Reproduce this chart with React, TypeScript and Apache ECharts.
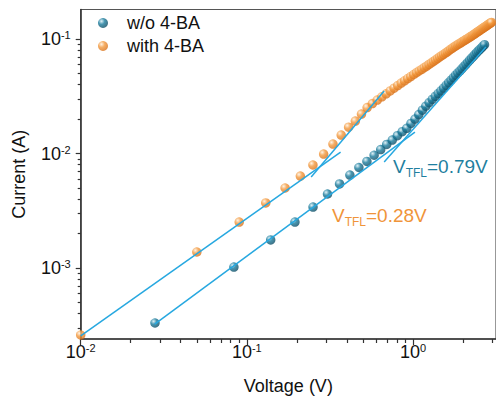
import React, { useEffect, useRef } from 'react';
import * as echarts from 'echarts';

const seriesNames = ['w/o 4-BA', 'with 4-BA'];

const voltageWithout = [
  0.028, 0.0836, 0.1392, 0.1948, 0.2504, 0.306, 0.3616, 0.4172, 0.4728, 0.5284,
  0.584, 0.6396, 0.6952, 0.7508, 0.8064, 0.862, 0.9176, 0.9732, 1.0288, 1.0844,
  1.14, 1.1956, 1.2512, 1.3068, 1.3624, 1.418, 1.4736, 1.5292, 1.5848, 1.6404,
  1.696, 1.7516, 1.8072, 1.8628, 1.9184, 1.974, 2.0296, 2.0852, 2.1408, 2.1964,
  2.252, 2.3076, 2.3632, 2.4188, 2.4744, 2.53, 2.5856, 2.6412, 2.6968,
];
const currentWithout = [
  3.31e-4, 1.02e-3, 1.76e-3, 2.52e-3, 3.41e-3, 4.43e-3, 5.42e-3, 6.49e-3, 7.55e-3, 8.53e-3,
  9.66e-3, 0.01084, 0.012, 0.0131, 0.0143, 0.0155, 0.0166, 0.0183, 0.02, 0.0219,
  0.0239, 0.0259, 0.0278, 0.0297, 0.0316, 0.0334, 0.0353, 0.0373, 0.0394, 0.0416,
  0.0437, 0.046, 0.0483, 0.0506, 0.0528, 0.0552, 0.0576, 0.0602, 0.0627, 0.0654,
  0.068, 0.0707, 0.0734, 0.0761, 0.0787, 0.0813, 0.0839, 0.0867, 0.0893,
];

const voltageWith = [
  0.01, 0.05, 0.09, 0.13, 0.17, 0.21, 0.25, 0.29, 0.33, 0.37,
  0.41, 0.45, 0.49, 0.53, 0.57, 0.61, 0.65, 0.69, 0.73, 0.77,
  0.81, 0.85, 0.89, 0.93, 0.97, 1.01, 1.05, 1.09, 1.13, 1.17,
  1.21, 1.25, 1.29, 1.33, 1.37, 1.41, 1.45, 1.49, 1.53, 1.57,
  1.61, 1.65, 1.69, 1.73, 1.77, 1.81, 1.85, 1.89, 1.93, 1.97,
  2.01, 2.05, 2.09, 2.13, 2.17, 2.21, 2.25, 2.29, 2.33, 2.37,
  2.41, 2.45, 2.49, 2.53, 2.57, 2.61, 2.65, 2.69, 2.73, 2.77,
  2.81, 2.85, 2.89, 2.93, 2.97,
];
const currentWith = [
  2.6e-4, 1.38e-3, 2.52e-3, 3.7e-3, 5.0e-3, 6.35e-3, 7.94e-3, 9.9e-3, 0.0121, 0.0145,
  0.017, 0.0192, 0.0221, 0.0252, 0.0273, 0.0293, 0.0313, 0.0332, 0.0352, 0.0372,
  0.0392, 0.0412, 0.0432, 0.0452, 0.047, 0.049, 0.0508, 0.0526, 0.0544, 0.0563,
  0.0581, 0.06, 0.0618, 0.0637, 0.0657, 0.0677, 0.0697, 0.0716, 0.0735, 0.0755,
  0.0774, 0.0794, 0.0815, 0.0834, 0.0853, 0.0871, 0.0888, 0.0906, 0.0923, 0.094,
  0.0957, 0.0975, 0.0993, 0.101, 0.1026, 0.1045, 0.1062, 0.1079, 0.1097, 0.1116,
  0.1135, 0.1153, 0.1174, 0.1191, 0.1211, 0.123, 0.1248, 0.1268, 0.1286, 0.1303,
  0.1322, 0.1342, 0.1361, 0.1377, 0.1396,
];

// fitted lines (endpoints): voltage, current
const fitOhmicWithV = [0.01, 0.367];
const fitOhmicWithI = [2.55e-4, 0.0103];
const fitTflWithV = [0.244, 0.671];
const fitTflWithI = [0.00624, 0.0351];
const fitOhmicWithoutV = [0.0279, 1.028];
const fitOhmicWithoutI = [3.24e-4, 0.0154];
const fitTflWithoutV = [0.671, 2.75];
const fitTflWithoutI = [0.00843, 0.0851];

const xMajorExps = [-2, -1, 0];
const yMajorExps = [-3, -2, -1];
const xLimits = [0.01, 3.1623];
const yLimits = [2.399e-4, 0.1811];

const vtflWithout = '0.79V';
const vtflWith = '0.28V';

const FONT = '"Liberation Sans", Arial, Helvetica, sans-serif';
const BLUE = '#1a7c9d';
const ORANGE = '#f39a3f';
const FIT = '#27a8e0';
const AXIS = '#333333';

const lg = (v: number) => Math.log10(v);
const pairs = (xs: number[], ys: number[]) => xs.map((x, i) => [lg(x), lg(ys[i])]);

function minorTicks(exps: number[], lo: number, hi: number) {
  const out: number[] = [];
  const all = [exps[0] - 1, ...exps];
  all.forEach((n) => {
    for (let k = 2; k <= 9; k++) {
      const v = lg(k) + n;
      if (v > lo && v < hi) out.push(v);
    }
  });
  return out;
}

function ball(c0: string, c1: string, c2: string) {
  return new echarts.graphic.RadialGradient(0.35, 0.32, 0.7, [
    { offset: 0, color: c0 },
    { offset: 0.45, color: c1 },
    { offset: 1, color: c2 },
  ]);
}

export default function App() {
  const ref = useRef<HTMLDivElement>(null);
  useEffect(() => {
    if (!ref.current) return;
    const chart = echarts.init(ref.current, null, { renderer: 'svg' });
    const xMin = lg(xLimits[0]);
    const xMax = lg(xLimits[1]);
    const yMin = lg(yLimits[0]);
    const yMax = lg(yLimits[1]);
    const labelFmt = (v: number) => `{b|10}{s|${Math.round(v)}}`;
    const rich = {
      b: { fontSize: 18, lineHeight: 20, fontFamily: FONT, color: '#111' },
      s: { fontSize: 11, lineHeight: 11, padding: [0, 0, 8, 0], fontFamily: FONT, color: '#111' },
    };
    const fitLine = (xs: number[], ys: number[]) => ({
      type: 'line',
      data: pairs(xs, ys),
      showSymbol: false,
      symbol: 'none',
      lineStyle: { color: FIT, width: 1.5 },
      z: 5,
      silent: true,
      legendHoverLink: false,
    });
    const annRich = (color: string) => ({
      v: { fontSize: 19, lineHeight: 20, fontFamily: FONT, fill: color },
      s: { fontSize: 12, lineHeight: 12, padding: [13, 0, 0, 0], fontFamily: FONT, fill: color },
    });

    chart.setOption({
      animation: false,
      grid: {
        left: 80, top: 9.5, right: -4, bottom: 66,
        show: true, borderColor: '#555', borderWidth: 1.2, backgroundColor: 'transparent',
      },
      legend: {
        data: seriesNames,
        orient: 'vertical',
        left: 98,
        top: 14,
        padding: 0,
        itemGap: 5,
        itemWidth: 10,
        itemHeight: 10,
        icon: 'circle',
        textStyle: { fontSize: 18, fontFamily: FONT, color: '#111', padding: [0, 0, 0, 14] },
      },
      xAxis: [
        {
          type: 'value', min: xMin, max: xMax, position: 'bottom',
          name: 'Voltage (V)', nameLocation: 'middle', nameGap: 36,
          nameTextStyle: { fontSize: 18, fontFamily: FONT, color: '#111', lineHeight: 22 },
          axisLine: { show: true, onZero: false, lineStyle: { color: AXIS, width: 1.5 } },
          axisTick: { show: true, inside: false, length: 6, customValues: xMajorExps, lineStyle: { color: AXIS, width: 1.2 } },
          axisLabel: { customValues: xMajorExps, formatter: labelFmt, rich, margin: 3, showMinLabel: true, showMaxLabel: true },
          splitLine: { show: false },
        },
        {
          type: 'value', min: xMin, max: xMax, position: 'bottom',
          axisLine: { show: false, onZero: false },
          axisTick: { show: true, inside: false, length: 4, customValues: minorTicks(xMajorExps, xMin, xMax), lineStyle: { color: AXIS, width: 1.2 } },
          axisLabel: { show: false },
          splitLine: { show: false },
        },
      ],
      yAxis: [
        {
          type: 'value', min: yMin, max: yMax, position: 'left',
          name: 'Current (A)', nameLocation: 'middle', nameGap: 45,
          nameTextStyle: { fontSize: 18, fontFamily: FONT, color: '#111', lineHeight: 22 },
          axisLine: { show: true, onZero: false, lineStyle: { color: AXIS, width: 1.5 } },
          axisTick: { show: true, inside: false, length: 5, customValues: yMajorExps, lineStyle: { color: AXIS, width: 1.2 } },
          axisLabel: { customValues: yMajorExps, formatter: labelFmt, rich, margin: 10 },
          splitLine: { show: false },
        },
        {
          type: 'value', min: yMin, max: yMax, position: 'left',
          axisLine: { show: false, onZero: false },
          axisTick: { show: true, inside: false, length: 3, customValues: minorTicks(yMajorExps, yMin, yMax), lineStyle: { color: AXIS, width: 1.2 } },
          axisLabel: { show: false },
          splitLine: { show: false },
        },
      ],
      series: [
        {
          name: seriesNames[0],
          type: 'scatter',
          data: pairs(voltageWithout, currentWithout),
          symbolSize: 9.5,
          itemStyle: { color: ball('#d8eef5', BLUE, '#0f4e66') },
          z: 3,
        },
        {
          name: seriesNames[1],
          type: 'scatter',
          data: pairs(voltageWith, currentWith),
          symbolSize: 9.5,
          itemStyle: { color: ball('#fff1df', ORANGE, '#d9731c') },
          z: 3,
        },
        fitLine(fitOhmicWithV, fitOhmicWithI),
        fitLine(fitTflWithV, fitTflWithI),
        fitLine(fitOhmicWithoutV, fitOhmicWithoutI),
        fitLine(fitTflWithoutV, fitTflWithoutI),
      ],
      graphic: [
        {
          type: 'text', x: 393, y: 166, z: 10,
          style: {
            text: `{v|V}{s|TFL}{v|=${vtflWithout}}`,
            rich: annRich('#1f7fa0'),
            fill: '#1f7fa0', align: 'left', verticalAlign: 'middle',
          },
        },
        {
          type: 'text', x: 332, y: 215, z: 10,
          style: {
            text: `{v|V}{s|TFL}{v|=${vtflWith}}`,
            rich: annRich('#f0943a'),
            fill: '#f0943a', align: 'left', verticalAlign: 'middle',
          },
        },
      ],
    });
    return () => chart.dispose();
  }, []);
  return (
    <div
      ref={ref}
      style={{ position: 'absolute', left: 0, top: 0, width: 496, height: 405, background: '#fff' }}
    />
  );
}
